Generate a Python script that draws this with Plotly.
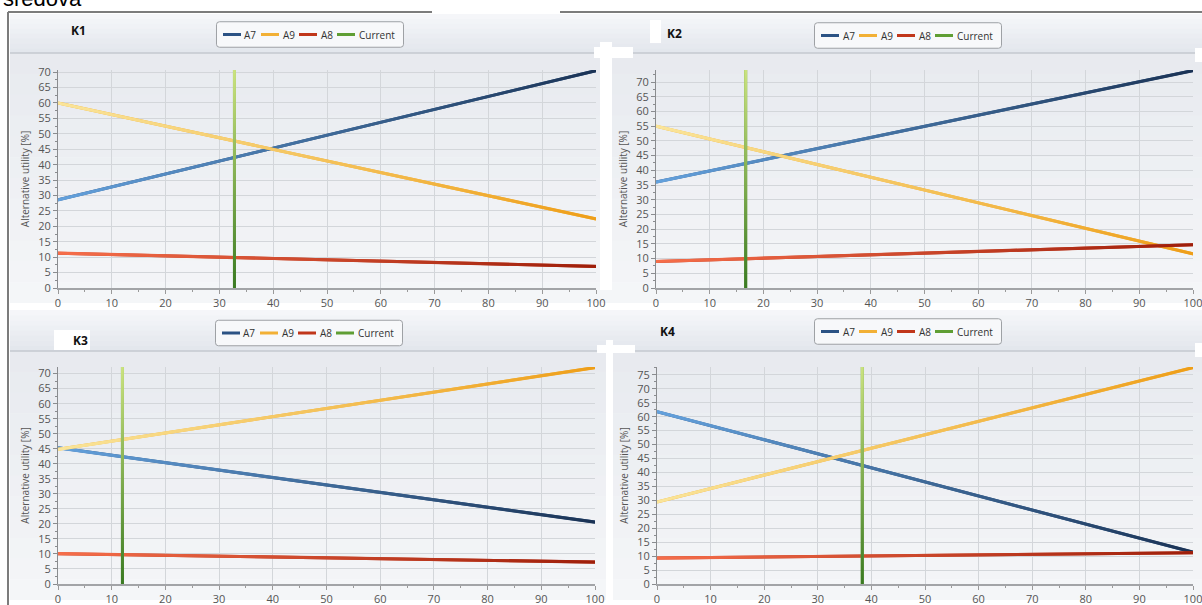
import plotly.graph_objects as go

# ---------------- data ----------------
PANELS = ["K1", "K2", "K3", "K4"]
SERIES = ["A7", "A9", "A8"]
CURRENT_NAME = "Current"
WEIGHT_X = [0, 100]                      # criterion weight [%] at both ends
A7_START = [28.6, 36.0, 45.3, 61.8]
A7_END = [70.5, 73.9, 20.6, 11.4]
A9_START = [60.0, 55.0, 44.8, 29.4]
A9_END = [22.4, 11.6, 72.0, 77.6]
A8_START = [11.3, 9.0, 10.1, 9.3]
A8_END = [7.0, 14.7, 7.3, 11.2]
CURRENT_WEIGHT = [32.8, 16.7, 12.0, 38.3]
X_TICK_STEP = 10
Y_TICK_STEP = 5
Y_TITLE = "Alternative utility [%]"
CUT_TEXT = "sredova"

SERIES_START = {"A7": A7_START, "A9": A9_START, "A8": A8_START}
SERIES_END = {"A7": A7_END, "A9": A9_END, "A8": A8_END}

# ---------------- styles / layout ----------------
W, H = 1202, 605
FONT = "Open Sans"


def px(x):
    return x / W


def py(y):
    return 1 - y / H


# plot boxes (left, right, top, bottom) in pixels
PLOT_BOX = [(58, 596, 70, 288), (656, 1193, 70, 288),
            (58, 595, 367, 584), (657, 1193, 367, 584)]
# panel rectangles: (x0, x1, header_top, separator, body_bottom)
PANEL_BOX = [(10, 606, 14, 53, 303), (606, 1202, 14, 53, 303),
             (10, 606, 310, 351, 600), (606, 1202, 310, 351, 600)]
TITLE_POS = [(78, 30), (675, 33), (80, 340), (668, 331)]
LEGEND_POS = [(310, 34.5), (908, 35.5), (309, 333), (908, 331.5)]
LEGEND_SIZE = (187, 25.5)

GRAD = {
    "A7": ("#63a1dd", "#1a3254"),
    "A9": ("#fae59a", "#ee9e18"),
    "A8": ("#f66e4a", "#9e1e0a"),
}
LEGEND_COLOR = {"A7": "#2b5284", "A9": "#f2b035", "A8": "#c0361a",
                CURRENT_NAME: "#5f9e34"}
CUR_GRAD = ("#3a7a22", "#cae27f")   # bottom, top


def hex2rgb(h):
    h = h.lstrip("#")
    return tuple(int(h[i:i + 2], 16) for i in (0, 2, 4))


def lerp(c0, c1, t):
    a, b = hex2rgb(c0), hex2rgb(c1)
    return "rgb(%d,%d,%d)" % tuple(round(a[i] + (b[i] - a[i]) * t) for i in range(3))


shapes = []
annotations = []


def grad_rect(x0, x1, y0, y1, c_top, c_bot, n):
    for k in range(n):
        ya = y0 + (y1 - y0) * k / n
        yb = y0 + (y1 - y0) * (k + 1) / n
        shapes.append(dict(type="rect", xref="paper", yref="paper",
                           x0=px(x0), x1=px(x1), y0=py(min(yb + 0.6, y1)), y1=py(ya),
                           fillcolor=lerp(c_top, c_bot, (k + 0.5) / n),
                           line=dict(width=0), layer="below"))


def white_rect(x0, x1, y0, y1):
    shapes.append(dict(type="rect", xref="paper", yref="paper",
                       x0=px(x0), x1=px(x1), y0=py(y1), y1=py(y0),
                       fillcolor="white", line=dict(width=0), layer="below"))


def line_shape(x0, y0, x1, y1, color, width, layer="below"):
    shapes.append(dict(type="line", xref="paper", yref="paper",
                       x0=px(x0), y0=py(y0), x1=px(x1), y1=py(y1),
                       line=dict(color=color, width=width), layer=layer))


def round_box(x0, x1, y0, y1, r, fill, border):
    pts = [
        ("M", x0 + r, y0), ("L", x1 - r, y0), ("Q", x1, y0, x1, y0 + r),
        ("L", x1, y1 - r), ("Q", x1, y1, x1 - r, y1), ("L", x0 + r, y1),
        ("Q", x0, y1, x0, y1 - r), ("L", x0, y0 + r), ("Q", x0, y0, x0 + r, y0),
    ]
    parts = []
    for p in pts:
        cmd, coords = p[0], p[1:]
        xy = []
        for j in range(0, len(coords), 2):
            xy.append("%.6f,%.6f" % (px(coords[j]), py(coords[j + 1])))
        parts.append(cmd + " " + " ".join(xy))
    shapes.append(dict(type="path", xref="paper", yref="paper",
                       path=" ".join(parts) + " Z", fillcolor=fill,
                       line=dict(color=border, width=1), layer="above"))


for (x0, x1, ht, sep, bb) in PANEL_BOX:
    grad_rect(x0, x1, ht, sep, "#f6f7fa", "#e2e6ec", 8)
    grad_rect(x0, x1, sep, bb, "#e7eaef", "#f5f6f8", 12)
    line_shape(x0, sep, x1, sep, "#c5c9cf", 1.5)

# screenshot artefacts (white patches) and outer frame
white_rect(600, 612, 42, 290)
white_rect(594, 633, 47, 58)
white_rect(606, 613, 340, 600)
white_rect(597, 635, 345, 353)
white_rect(650, 661, 20, 43)
white_rect(54, 90, 330, 350)
white_rect(1195, 1202, 48, 62)
white_rect(1195, 1202, 343, 357)
white_rect(10, 1202, 600, 605)
line_shape(8, 12, 432, 12, "#7c7c7c", 2)
line_shape(560, 12, 1202, 12, "#7c7c7c", 2)
line_shape(8, 12, 8, 605, "#7c7c7c", 2)

fig = go.Figure()
layout_axes = {}

for i, name in enumerate(PANELS):
    sfx = "" if i == 0 else str(i + 1)
    xa, ya = "x" + sfx, "y" + sfx
    l, r, t, b = PLOT_BOX[i]
    ymax = max(max(SERIES_START[s][i], SERIES_END[s][i]) for s in SERIES) + 0.2
    h_half = 1.6 * ymax / (b - t)        # half line thickness in data units (y)
    w_half = 1.5 * 100 / (r - l)         # half line thickness in data units (x)

    for s in SERIES:
        y0, y1 = SERIES_START[s][i], SERIES_END[s][i]
        fig.add_trace(go.Scatter(
            x=WEIGHT_X, y=[y0, y1], mode="lines", name=s,
            line=dict(color=LEGEND_COLOR[s], width=3), showlegend=False,
            xaxis=xa, yaxis=ya, hoverinfo="x+y+name"))
        fig.add_trace(go.Scatter(
            x=[WEIGHT_X[0], WEIGHT_X[1], WEIGHT_X[1], WEIGHT_X[0]],
            y=[y0 - h_half, y1 - h_half, y1 + h_half, y0 + h_half],
            mode="none", fill="toself",
            fillgradient=dict(type="horizontal",
                              colorscale=[[0, GRAD[s][0]], [1, GRAD[s][1]]]),
            showlegend=False, hoverinfo="skip", xaxis=xa, yaxis=ya))

    c = CURRENT_WEIGHT[i]
    fig.add_trace(go.Scatter(
        x=[c, c], y=[0, ymax], mode="lines", name=CURRENT_NAME,
        line=dict(color=LEGEND_COLOR[CURRENT_NAME], width=3), showlegend=False,
        xaxis=xa, yaxis=ya, hoverinfo="x+name"))
    fig.add_trace(go.Scatter(
        x=[c - w_half, c + w_half, c + w_half, c - w_half],
        y=[0, 0, ymax, ymax], mode="none", fill="toself",
        fillgradient=dict(type="vertical",
                          colorscale=[[0, CUR_GRAD[0]], [1, CUR_GRAD[1]]]),
        showlegend=False, hoverinfo="skip", xaxis=xa, yaxis=ya))

    layout_axes["xaxis" + sfx] = dict(
        domain=[px(l), px(r)], anchor=ya, range=[0, 100], dtick=X_TICK_STEP,
        automargin=False, ticklabeloverflow="allow",
        showgrid=True, gridcolor="#d3d6da", gridwidth=1, zeroline=False,
        showline=True, linecolor="#a2a4a7", linewidth=2,
        ticks="outside", ticklen=4, tickcolor="#9a9a9a",
        minor=dict(dtick=X_TICK_STEP / 2, ticks="outside", ticklen=2,
                   tickcolor="#9a9a9a", showgrid=False),
        tickfont=dict(family=FONT, size=11, color="#555555"), fixedrange=True)
    layout_axes["yaxis" + sfx] = dict(
        domain=[py(b), py(t)], anchor=xa, range=[0, ymax], dtick=Y_TICK_STEP,
        automargin=False, ticklabeloverflow="allow",
        showgrid=True, gridcolor="#d3d6da", gridwidth=1, zeroline=False,
        showline=True, linecolor="#8a8c8f", linewidth=1,
        ticks="outside", ticklen=4, tickcolor="#8a8c8f",
        minor=dict(dtick=Y_TICK_STEP / 2, ticks="outside", ticklen=2,
                   tickcolor="#8a8c8f", showgrid=False),
        tickfont=dict(family=FONT, size=11, color="#555555"),
        title=dict(text=Y_TITLE, standoff=6,
                   font=dict(family=FONT, size=10, color="#555555")),
        fixedrange=True)

    # legend box with line samples and names
    lx, ly = LEGEND_POS[i]
    bw, bh = LEGEND_SIZE
    bx0, bx1, by0, by1 = lx - bw / 2, lx + bw / 2, ly - bh / 2, ly + bh / 2
    round_box(bx0, bx1, by0, by1, 3, "#f7f8fa", "#9ea1a5")
    cursor = bx0 + 6.5
    for item in SERIES + [CURRENT_NAME]:
        line_shape(cursor, ly, cursor + 18, ly, LEGEND_COLOR[item], 3, layer="above")
        annotations.append(dict(
            text=item, xref="paper", yref="paper", x=px(cursor + 19.5), y=py(ly),
            xanchor="left", yanchor="middle", showarrow=False,
            font=dict(family=FONT, size=10, color="#333333")))
        cursor += 19.5 + 5.3 * len(item) + 2.4 + 5.5

    tx, ty = TITLE_POS[i]
    annotations.append(dict(
        text="<b>%s</b>" % name, xref="paper", yref="paper",
        x=px(tx), y=py(ty), xanchor="center", yanchor="middle",
        showarrow=False, font=dict(family=FONT, size=12, color="#111111")))

annotations.append(dict(
    text=CUT_TEXT, xref="paper", yref="paper", x=px(1), y=py(13.5),
    xanchor="left", yanchor="bottom", showarrow=False,
    font=dict(family="Liberation Sans", size=22, color="#000000")))

fig.update_layout(
    width=W, height=H, margin=dict(l=0, r=0, t=0, b=0, autoexpand=False),
    paper_bgcolor="white", plot_bgcolor="rgba(0,0,0,0)", showlegend=False,
    shapes=shapes, annotations=annotations, **layout_axes)

fig.write_html(
    "out.html",
    config={"displayModeBar": False, "staticPlot": False},
    post_script="document.body.style.margin='0';"
                "document.body.style.overflow='hidden';"
                "document.documentElement.style.overflow='hidden';")
